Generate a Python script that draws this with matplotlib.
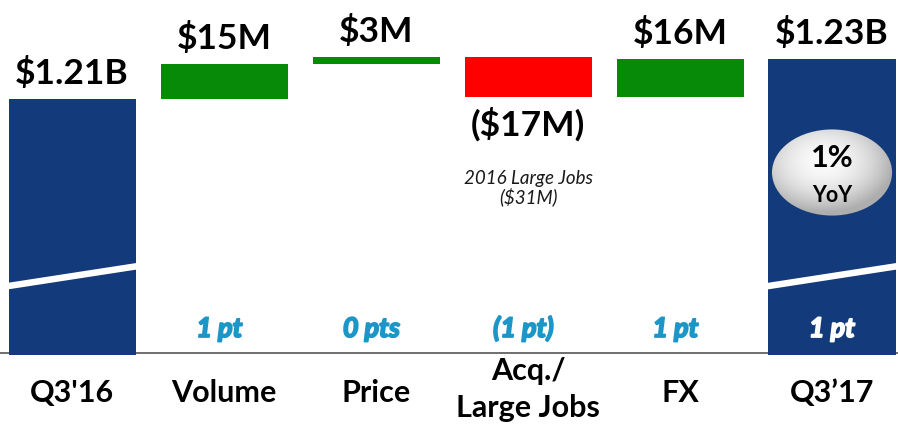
import numpy as np
import matplotlib
matplotlib.use('Agg')
import matplotlib.pyplot as plt
import matplotlib.patheffects as pe
from matplotlib.patches import Ellipse, Polygon

# ---- data (values in $M) ----
categories = ["Q3'16", "Volume", "Price", "Acq./\nLarge Jobs", "FX", "Q3\u201917"]
start_total = 1210
changes = [15, 3, -17, 16]
value_labels = ["$1.21B", "$15M", "$3M", "($17M)", "$16M", "$1.23B"]
pt_labels = ["", "1 pt", "0 pts", "(1 pt)", "1 pt", "1 pt"]
note_lines = ["2016 Large Jobs", "($31M)"]
yoy_text = ["1%", "YoY"]

NAVY = '#133a7a'
GREEN = '#078a07'
RED = '#ff0000'
TEAL = '#1c96c6'
FLOOR = 1101.7          # where the (broken) total bars start

plt.rcParams['font.family'] = ['Lato', 'DejaVu Sans']


def main():
    fig = plt.figure(figsize=(8.98, 4.25), dpi=100)
    ax = fig.add_axes([0, 0, 1, 1])
    ax.axis('off')

    x = np.arange(len(categories))
    width = 0.836

    # waterfall bottoms / tops
    cum = start_total + np.concatenate([[0], np.cumsum(changes)])
    end_total = cum[-1]

    # total bars
    for i, top in [(0, start_total), (5, end_total)]:
        ax.bar(x[i], top - FLOOR, bottom=FLOOR, width=width, color=NAVY, zorder=2)

    # change bars
    for k, d in enumerate(changes):
        i = k + 1
        lo = min(cum[k], cum[k + 1])
        col = GREEN if d > 0 else RED
        ax.bar(x[i], abs(d), bottom=lo, width=width, color=col, zorder=2)

    # axis line
    ax.axhline(FLOOR + 0.7, color='#555555', lw=1.2, zorder=1)

    # break stripes on the total bars
    for i in (0, 5):
        l, r = x[i] - width / 2 - 0.02, x[i] + width / 2 + 0.02
        yl, yr, g = 1130.7, 1139.4, 1.4
        ax.add_patch(Polygon([(l, yl - g), (r, yr - g), (r, yr + g), (l, yl + g)],
                             closed=True, color='white', zorder=3, lw=0))

    # value labels
    tops = [start_total] + [max(cum[k], cum[k + 1]) for k in range(4)] + [end_total]
    for i, lab in enumerate(value_labels):
        if i in (1, 2, 3, 4) and changes[i - 1] < 0:
            ax.annotate(lab, xy=(x[i], min(cum[i - 1], cum[i])), xytext=(0, -39),
                        textcoords='offset pixels', ha='center', va='baseline',
                        fontsize=25.5, fontweight='bold', color='black')
        else:
            ax.annotate(lab, xy=(x[i], tops[i]), xytext=(0, 15),
                        textcoords='offset pixels', ha='center', va='baseline',
                        fontsize=25.5, fontweight='bold', color='black')

    # note under the negative bar
    neg_bottom = min(cum[2], cum[3])
    for line, off in zip(note_lines, (-87, -106)):
        ax.annotate(line, xy=(x[3], neg_bottom), xytext=(0, off),
                    textcoords='offset pixels', ha='center', va='baseline',
                    fontsize=13.5, style='italic', color='#1a1a1a')

    # pt labels (bold italic, thickened with a stroke)
    tr = ax.get_xaxis_transform()
    for i, lab in enumerate(pt_labels):
        if not lab:
            continue
        col = 'white' if i == 5 else TEAL
        dx = 0 if i == 5 else -0.03
        ax.text(x[i] + dx, 1 - 337 / 425, lab, transform=tr, ha='center',
                va='baseline', fontsize=19.5, fontweight='bold', style='italic',
                color=col, zorder=4,
                path_effects=[pe.withStroke(linewidth=1.3, foreground=col)])

    # category labels
    for i, lab in enumerate(categories):
        if '\n' in lab:
            a, b = lab.split('\n')
            ax.text(x[i], 1 - 380 / 425, a, transform=tr, ha='center',
                    va='baseline', fontsize=22, fontweight='bold')
            ax.text(x[i], 1 - 417 / 425, b, transform=tr, ha='center',
                    va='baseline', fontsize=22, fontweight='bold')
        else:
            ax.text(x[i], 1 - 402 / 425, lab, transform=tr, ha='center',
                    va='baseline', fontsize=22, fontweight='bold')

    # YoY bubble
    ex, ey, ew, eh = x[5], 1179.0, 0.79, 36.5
    ell = Ellipse((ex, ey), ew, eh, facecolor='none', edgecolor='none', zorder=4)
    ax.add_patch(ell)
    gx, gy = np.meshgrid(np.linspace(-1, 1, 200), np.linspace(-1, 1, 200))
    r = np.sqrt((gx + 0.15) ** 2 + (gy - 0.25) ** 2)
    shade = np.clip(0.98 - 0.22 * r ** 2, 0.68, 1.0)
    img = ax.imshow(shade, cmap='gray', vmin=0, vmax=1, origin='lower',
                    extent=(ex - ew / 2, ex + ew / 2, ey - eh / 2, ey + eh / 2),
                    aspect='auto', zorder=4, interpolation='bilinear')
    img.set_clip_path(ell)
    ax.text(ex, 1 - 167 / 425, yoy_text[0], transform=tr, ha='center', va='baseline',
            fontsize=22, fontweight='bold', zorder=5)
    ax.text(ex, 1 - 201.5 / 425, yoy_text[1], transform=tr, ha='center', va='baseline',
            fontsize=15.5, fontweight='bold', zorder=5)

    ax.set_xlim(-0.474, 5.434)
    ax.set_ylim(1072.0, 1252.1)

    fig.savefig('out.png', dpi=100)
    plt.close(fig)


if __name__ == '__main__':
    main()
